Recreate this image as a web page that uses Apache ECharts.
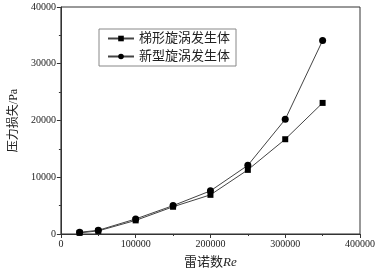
<!DOCTYPE html>
<html>
<head>
<meta charset="utf-8">
<script src="https://cdn.jsdelivr.net/npm/echarts@6/dist/echarts.min.js"></script>
<style>
  html, body { margin: 0; padding: 0; background: #fff; }
  #chart { width: 378px; height: 274px; }
</style>
</head>
<body>
<div id="chart"></div>
<script>
var reynolds = [25000, 50000, 100000, 150000, 200000, 250000, 300000, 350000];
var trapezoidLoss = [200, 550, 2400, 4800, 6900, 11300, 16700, 23100];
var newTypeLoss = [300, 650, 2650, 5000, 7600, 12100, 20200, 34100];
var seriesNames = ['梯形旋涡发生体', '新型旋涡发生体'];

var font = '"Liberation Serif", "Noto Sans CJK SC", serif';

function pairs(xs, ys) {
    var out = [];
    for (var i = 0; i < xs.length; i++) out.push([xs[i], ys[i]]);
    return out;
}

function plain(v) { return String(v); }

var option = {
    animation: false,
    backgroundColor: '#fff',
    textStyle: { fontFamily: font },
    grid: {
        left: 52, right: 16, top: 7, bottom: 37,
        show: true, borderColor: '#333', borderWidth: 1
    },
    legend: {
        left: 99, top: 29,
        orient: 'vertical',
        itemWidth: 26, itemHeight: 7, itemGap: 5,
        padding: [3, 6, 3, 8],
        borderColor: '#888', borderWidth: 1,
        textStyle: { fontFamily: font, fontSize: 13, color: '#222' },
        data: seriesNames
    },
    xAxis: {
        type: 'value',
        min: 0, max: 400000, interval: 100000,
        name: '{a|雷诺数}{b|Re}',
        nameLocation: 'middle', nameGap: 22,
        nameTextStyle: {
            rich: {
                a: { fontFamily: font, fontSize: 13, color: '#222' },
                b: { fontFamily: font, fontSize: 13, color: '#222', fontStyle: 'italic' }
            }
        },
        axisLine: { lineStyle: { color: '#333' } },
        axisTick: { inside: false, length: 4, lineStyle: { color: '#333' } },
        minorTick: { show: true, splitNumber: 2, length: 2, lineStyle: { color: '#333' } },
        axisLabel: { fontFamily: font, fontSize: 10, color: '#222', margin: 5, formatter: plain },
        splitLine: { show: false }
    },
    yAxis: {
        type: 'value',
        min: 0, max: 40000, interval: 10000,
        name: '压力损失/Pa',
        nameLocation: 'middle', nameGap: 38,
        nameTextStyle: { fontFamily: font, fontSize: 12, color: '#222' },
        axisLine: { lineStyle: { color: '#333' } },
        axisTick: { inside: false, length: 4, lineStyle: { color: '#333' } },
        minorTick: { show: true, splitNumber: 2, length: 2, lineStyle: { color: '#333' } },
        axisLabel: { fontFamily: font, fontSize: 10, color: '#222', margin: 5, formatter: plain },
        splitLine: { show: false }
    },
    series: [{
        name: seriesNames[0],
        type: 'line',
        data: pairs(reynolds, trapezoidLoss),
        symbol: 'rect', symbolSize: 6,
        itemStyle: { color: '#000' },
        lineStyle: { color: '#444', width: 1 }
    }, {
        name: seriesNames[1],
        type: 'line',
        data: pairs(reynolds, newTypeLoss),
        symbol: 'circle', symbolSize: 7,
        itemStyle: { color: '#000' },
        lineStyle: { color: '#444', width: 1 }
    }]
};

var myChart = echarts.init(document.getElementById('chart'));
myChart.setOption(option);
</script>
</body>
</html>
